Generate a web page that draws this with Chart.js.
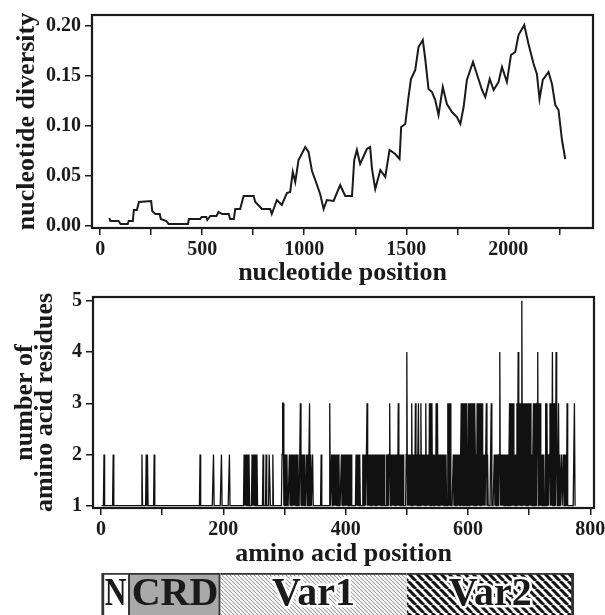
<!DOCTYPE html>
<html>
<head>
<meta charset="utf-8">
<script src="https://cdn.jsdelivr.net/npm/chart.js@4.4.1/dist/chart.umd.min.js"></script>
<style>
	html, body { margin: 0; padding: 0; background: #fff; overflow: hidden; width: 605px; height: 615px; }
	canvas { position: absolute; left: 0; }
	#diversity { top: 0; }
	#residues { top: 285px; }
	#domains { top: 565px; }
</style>
</head>
<body>
<canvas id="diversity" width="620" height="290"></canvas>
<canvas id="residues" width="620" height="287"></canvas>
<canvas id="domains" width="620" height="60"></canvas>
<script>
// nucleotide diversity (sliding window)
const nucPos = [45, 50, 90, 100, 135, 140, 160, 165, 180, 190, 250, 255, 270, 292, 297, 325, 335, 430, 435, 490,
	497, 520, 525, 540, 570, 580, 597, 630, 637, 655, 662, 686, 703, 752, 760, 784, 792, 833, 841, 866,
	890, 915, 931, 944, 956, 972, 980, 1005, 1021, 1038, 1054, 1078, 1095, 1111, 1144, 1176, 1201, 1234, 1245, 1258,
	1274, 1307, 1323, 1332, 1348, 1373, 1397, 1418, 1446, 1467, 1475, 1495, 1511, 1523, 1544, 1560, 1581, 1593, 1609, 1626,
	1642, 1658, 1679, 1699, 1724, 1748, 1765, 1781, 1797, 1827, 1846, 1871, 1887, 1909, 1928, 1952, 1969, 1993, 2013, 2034,
	2050, 2078, 2099, 2124, 2140, 2153, 2169, 2197, 2214, 2230, 2246, 2263, 2279];
const nucDiv = [0.008, 0.005, 0.005, 0.002, 0.002, 0.005, 0.005, 0.016, 0.016, 0.024, 0.025, 0.015, 0.012, 0.012, 0.007, 0.005, 0.002, 0.002, 0.007, 0.007,
	0.009, 0.009, 0.006, 0.010, 0.010, 0.014, 0.012, 0.012, 0.007, 0.007, 0.017, 0.017, 0.030, 0.030, 0.024, 0.019, 0.017, 0.017, 0.012, 0.026,
	0.021, 0.033, 0.034, 0.054, 0.044, 0.066, 0.069, 0.079, 0.074, 0.055, 0.046, 0.032, 0.017, 0.026, 0.025, 0.041, 0.030, 0.030, 0.066, 0.076,
	0.062, 0.077, 0.079, 0.057, 0.037, 0.056, 0.049, 0.076, 0.072, 0.067, 0.099, 0.102, 0.129, 0.147, 0.156, 0.179, 0.186, 0.167, 0.137, 0.134,
	0.126, 0.111, 0.139, 0.122, 0.114, 0.109, 0.102, 0.119, 0.146, 0.164, 0.152, 0.136, 0.129, 0.147, 0.136, 0.144, 0.159, 0.144, 0.171, 0.174,
	0.191, 0.201, 0.182, 0.162, 0.152, 0.127, 0.146, 0.154, 0.142, 0.121, 0.116, 0.086, 0.067];

const nucTicks = [0, 250, 500, 750, 1000, 1250, 1500, 1750, 2000, 2250];
const nucTickLabels = ['0', '', '500', '', '1000', '', '1500', '', '2000', ''];
const divTicks = [0, 0.05, 0.1, 0.15, 0.2];
const divTickLabels = ['0.00', '0.05', '0.10', '0.15', '0.20'];

// number of amino acid residues per position: 1 everywhere except the positions listed
const aaLast = 775;
const aaCount2 = [5, 20, 67, 74, 76, 87, 162, 184, 197, 210,
	234, 236, 238, 240, 242, 247, 249, 251, 253, 255,
	265, 270, 275, 276, 281,
	296, 300, 302, 304, 308, 310, 312, 314, 316, 318, 320, 322, 328, 330, 332, 336, 338, 340, 343, 346, 360,
	377, 379, 381, 383, 385, 387, 389, 393, 395, 397, 399,
	401, 403, 405, 407, 409, 417, 419, 421, 423,
	428, 430, 432, 434, 437, 439, 441, 443, 445, 447, 449, 451, 453, 455, 457, 459, 461, 463,
	467, 469, 471, 474, 476, 478, 480, 482, 484, 488, 490, 492, 494,
	499, 502, 504, 506, 510, 512, 516, 518, 521, 525, 527, 529, 533, 535,
	543, 546, 552, 554, 556, 558, 560, 562, 564,
	576, 578, 580, 582, 584, 586, 588, 600, 612,
	625, 627, 632, 643, 645, 647, 649, 651, 654, 656, 658, 660, 662, 664,
	667, 676, 678, 704, 706, 720, 722, 724, 731, 733,
	745, 747, 750, 753, 756, 758, 760];
const aaCount3 = [297, 298, 326, 341, 374, 435, 472, 486, 508, 514, 519, 523, 531, 537, 539, 541, 548, 550,
	567, 569, 571, 589, 591, 593, 595, 597, 601, 603, 605, 607, 609, 611, 615, 617, 619, 621, 623, 630, 638,
	668, 670, 672, 674, 680, 684, 686, 690, 692, 694, 696, 698, 700, 702, 707, 709, 711, 713, 716, 718,
	727, 729, 734, 736, 740, 742, 748, 762, 774];
const aaCount4 = [500, 652, 682, 714, 738, 744];
const aaCount5 = [688];

const aaTicks = [0, 100, 200, 300, 400, 500, 600, 700, 800];
const aaTickLabels = ['0', '', '200', '', '400', '', '600', '', '800'];
const resTicks = [1, 2, 3, 4, 5];
const resTickLabels = ['1', '2', '3', '4', '5'];

// protein domains along the amino acid axis
const domainNames = ['N', 'CRD', 'Var1', 'Var2'];
const domainStart = [1, 47, 195, 500];
const domainEnd = [47, 195, 500, 773];

const SERIF = "'Liberation Serif', 'Times New Roman', serif";
const INK = '#1a1a1a';

function fixedTicks(values) {
	return (scale) => {
		scale.ticks = values.map((v) => ({ value: v }));
	};
}

function tickFont() {
	return { family: SERIF, size: 20, weight: 'bold' };
}

function xAxis(min, max, ticks, labels, title, height, titlePad) {
	return {
		type: 'linear',
		min: min,
		max: max,
		afterBuildTicks: fixedTicks(ticks),
		afterFit: (s) => {
			s.height = height;
			s.paddingLeft = 0;
			s.paddingRight = 0;
		},
		grid: { drawOnChartArea: false, tickLength: 7, color: INK, lineWidth: 1.5 },
		border: { display: false },
		ticks: {
			callback: (v, i) => labels[i],
			font: tickFont(),
			color: INK,
			padding: 3,
			maxRotation: 0,
			autoSkip: false
		},
		title: {
			display: true,
			text: title,
			color: INK,
			font: { family: SERIF, size: 26, weight: 'bold', lineHeight: 1 },
			padding: { top: 0, bottom: titlePad }
		}
	};
}

function yAxis(min, max, ticks, labels, title, width, titlePad, lineHeight) {
	return {
		type: 'linear',
		min: min,
		max: max,
		afterBuildTicks: fixedTicks(ticks),
		afterFit: (s) => {
			s.width = width;
			s.paddingTop = 0;
			s.paddingBottom = 0;
		},
		grid: { drawOnChartArea: false, tickLength: 7, color: INK, lineWidth: 1.5 },
		border: { display: false },
		ticks: {
			callback: (v, i) => labels[i],
			font: tickFont(),
			color: INK,
			padding: 4,
			autoSkip: false
		},
		title: {
			display: true,
			text: title,
			color: INK,
			font: { family: SERIF, size: 26, weight: 'bold', lineHeight: lineHeight },
			padding: { top: titlePad, bottom: 0 }
		}
	};
}

const framePlugin = {
	id: 'frame',
	afterDraw(chart) {
		const { ctx, chartArea: a } = chart;
		ctx.save();
		ctx.strokeStyle = INK;
		ctx.lineWidth = 2.2;
		ctx.strokeRect(a.left, a.top, a.right - a.left, a.bottom - a.top);
		ctx.restore();
	}
};

const baseOptions = {
	responsive: false,
	animation: false,
	devicePixelRatio: 1,
	plugins: { legend: { display: false }, tooltip: { enabled: false } }
};

// upper panel
new Chart(document.getElementById('diversity'), {
	type: 'line',
	data: {
		datasets: [
			{
				data: nucPos.map((x, i) => ({ x: x, y: nucDiv[i] })),
				borderColor: INK,
				borderWidth: 2,
				pointRadius: 0,
				tension: 0,
				fill: false
			}
		]
	},
	options: {
		...baseOptions,
		layout: { padding: { left: 0, right: 27, top: 15, bottom: 0 } },
		scales: {
			x: xAxis(-40, 2415, nucTicks, nucTickLabels, 'nucleotide position', 62, 4),
			y: yAxis(-0.002, 0.211, divTicks, divTickLabels, 'nucleotide diversity', 92, 14, 1)
		}
	},
	plugins: [framePlugin]
});

// lower panel
const counts = [];
for (let p = 1; p <= aaLast; p++) counts[p] = 1;
aaCount2.forEach((p) => (counts[p] = 2));
aaCount3.forEach((p) => (counts[p] = 3));
aaCount4.forEach((p) => (counts[p] = 4));
aaCount5.forEach((p) => (counts[p] = 5));
const aaData = [];
for (let p = 1; p <= aaLast; p++) aaData.push({ x: p, y: counts[p] });

new Chart(document.getElementById('residues'), {
	type: 'line',
	data: {
		datasets: [
			{
				data: aaData,
				borderColor: '#111',
				borderWidth: 1.3,
				pointRadius: 0,
				tension: 0,
				fill: false
			}
		]
	},
	options: {
		...baseOptions,
		layout: { padding: { left: 0, right: 26, top: 12, bottom: 0 } },
		scales: {
			x: xAxis(-13, 806, aaTicks, aaTickLabels, 'amino acid position', 64, 5),
			y: yAxis(0.955, 5.075, resTicks, resTickLabels, ['number of', 'amino acid residues'], 93, 15, 0.77)
		}
	},
	plugins: [framePlugin]
});

// domain bar
function hatch(size, color, width) {
	const c = document.createElement('canvas');
	c.width = size;
	c.height = size;
	const x = c.getContext('2d');
	x.fillStyle = '#fff';
	x.fillRect(0, 0, size, size);
	x.strokeStyle = color;
	x.lineWidth = width;
	x.beginPath();
	for (let k = -1; k <= 1; k++) {
		x.moveTo(k * size, 0);
		x.lineTo(k * size + size, size);
	}
	x.stroke();
	return x.createPattern(c, 'repeat');
}

const domainFills = ['#ffffff', '#a9a9a9', hatch(4, '#a0a0a0', 1.1), hatch(8, '#111', 3)];
const domainBorders = [
	{ top: 2, bottom: 2, left: 3, right: 2 },
	{ top: 2, bottom: 2, left: 0, right: 2 },
	{ top: 2, bottom: 2, left: 0, right: 0 },
	{ top: 2, bottom: 2, left: 0, right: 3 }
];
const domainHalo = [false, false, true, true];
const domainSquash = [0.75, 1, 1, 1];

const domainLabels = {
	id: 'domainLabels',
	afterDatasetsDraw(chart) {
		const { ctx } = chart;
		chart.data.datasets.forEach((ds, i) => {
			const bar = chart.getDatasetMeta(i).data[0];
			const cx = (bar.x + bar.base) / 2;
			const y = chart.chartArea.top + 32;
			ctx.save();
			ctx.translate(cx, y);
			ctx.scale(domainSquash[i], 1);
			ctx.font = 'bold 40px ' + SERIF;
			ctx.textAlign = 'center';
			ctx.textBaseline = 'alphabetic';
			if (domainHalo[i]) {
				ctx.lineWidth = 5;
				ctx.lineJoin = 'round';
				ctx.strokeStyle = '#fff';
				ctx.strokeText(ds.label, 0, 0);
			}
			ctx.fillStyle = INK;
			ctx.fillText(ds.label, 0, 0);
			ctx.restore();
		});
	}
};

new Chart(document.getElementById('domains'), {
	type: 'bar',
	data: {
		labels: ['protein'],
		datasets: domainNames.map((name, i) => ({
			label: name,
			data: [[domainStart[i], domainEnd[i]]],
			backgroundColor: domainFills[i],
			borderColor: '#333',
			borderWidth: domainBorders[i],
			borderSkipped: false,
			grouped: false,
			barPercentage: 1,
			categoryPercentage: 1
		}))
	},
	options: {
		...baseOptions,
		indexAxis: 'y',
		layout: { padding: { left: 93, right: 26, top: 8, bottom: 0 } },
		scales: {
			x: { type: 'linear', min: -13, max: 806, display: false },
			y: { display: false }
		}
	},
	plugins: [domainLabels]
});
</script>
</body>
</html>
